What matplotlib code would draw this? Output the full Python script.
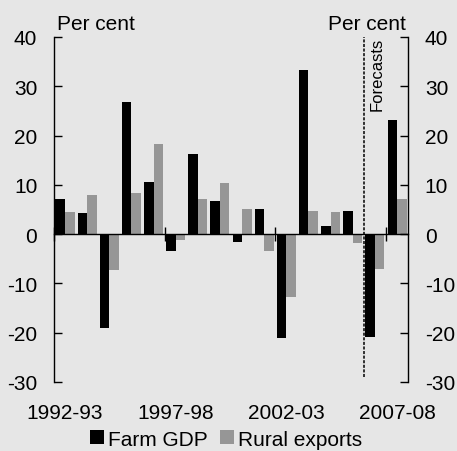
import numpy as np
import matplotlib.pyplot as plt

plt.rcParams['font.family'] = ['Liberation Sans', 'DejaVu Sans']
plt.rcParams['axes.unicode_minus'] = False

# Financial years 1992-93 .. 2007-08, annual percentage change
years = ['1992-93', '1993-94', '1994-95', '1995-96', '1996-97', '1997-98',
         '1998-99', '1999-00', '2000-01', '2001-02', '2002-03', '2003-04',
         '2004-05', '2005-06', '2006-07', '2007-08']
farm_gdp = [7.1, 4.2, -19.1, 26.7, 10.6, -3.4, 16.2, 6.8,
            -1.6, 5.0, -21.1, 33.3, 1.6, 4.7, -20.8, 23.1]
rural_exports = [4.5, 7.9, -7.2, 8.3, 18.3, -1.2, 7.1, 10.3,
                 5.0, -3.4, -12.8, 4.6, 4.5, -1.8, -7.1, 7.1]
label_years = ['1992-93', '1997-98', '2002-03', '2007-08']
forecast_start = '2006-07'

bg = '#e6e6e6'
x = np.arange(len(years))
w = 0.43

fig = plt.figure(figsize=(4.57, 4.52), dpi=100, facecolor=bg)
ax = fig.add_axes([0.118, 0.153, 0.775, 0.763], facecolor=bg)

ax.bar(x - w / 2, farm_gdp, w, color='black', label='Farm GDP')
ax.bar(x + w / 2, rural_exports, w, color='#969696', label='Rural exports')

ax.set_xlim(-0.5, len(years) - 0.5)
ax.set_ylim(-30, 40)
ax.set_yticks(range(-30, 41, 10))

# zero line doubles as the x axis, ticks every five years on it
ax.spines['bottom'].set_position(('data', 0))
ax.spines['top'].set_visible(False)
for s in ['left', 'right', 'bottom']:
    ax.spines[s].set_linewidth(1.0)
ax.set_xticks(np.arange(-0.5, len(years), 5))
ax.tick_params(axis='x', direction='inout', length=10, width=1, labelbottom=False)
ax.tick_params(axis='y', direction='in', length=5.5, width=1, left=True, right=True,
               labelleft=True, labelright=True, labelsize=15, pad=12)

# year labels along the bottom of the plot area
sec = ax.secondary_xaxis('bottom')
sec.spines['bottom'].set_visible(False)
sec.set_xticks([years.index(y) for y in label_years])
sec.set_xticklabels(label_years)
sec.tick_params(length=0, labelsize=15, pad=15)

# forecasts divider
fx = years.index(forecast_start) - 0.5
ax.plot([fx, fx], [-29, 40], color='black', lw=1.1, linestyle=(0, (2, 1)))
ax.text(fx + 0.6, 40, 'Forecasts', rotation=90, ha='center', va='top', fontsize=12)

ax.text(0.008, 1.012, 'Per cent', transform=ax.transAxes, ha='left', va='bottom', fontsize=15)
ax.text(0.995, 1.012, 'Per cent', transform=ax.transAxes, ha='right', va='bottom', fontsize=15)

fig.legend(loc='center', bbox_to_anchor=(0.495, 0.026), ncol=2, frameon=False,
           fontsize=15, handlelength=0.65, handleheight=0.65, handletextpad=0.2,
           columnspacing=0.6, borderpad=0)

fig.savefig('out.png', dpi=100, facecolor=bg)
